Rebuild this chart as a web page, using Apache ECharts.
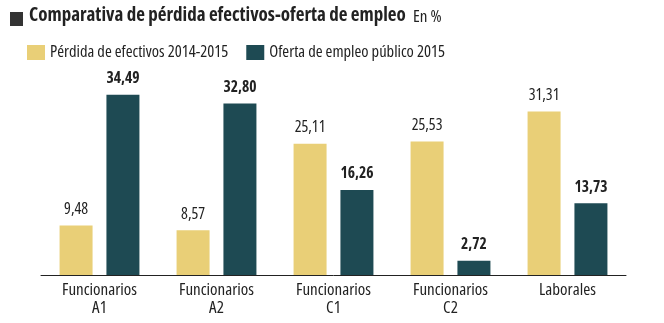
<!DOCTYPE html>
<html><head><meta charset="utf-8">
<script src="https://cdn.jsdelivr.net/npm/echarts@6/dist/echarts.min.js"></script>
<style>html,body{margin:0;padding:0;background:#fff}#c{width:664px;height:323px}</style>
</head><body><div id="c"></div>
<script>
const categories = ['Funcionarios\nA1','Funcionarios\nA2','Funcionarios\nC1','Funcionarios\nC2','Laborales'];
const perdida = [9.48, 8.57, 25.11, 25.53, 31.31];
const oferta = [34.49, 32.80, 16.26, 2.72, 13.73];
const seriesNames = ['Pérdida de efectivos 2014-2015','Oferta de empleo público 2015'];
const titleText = 'Comparativa de pérdida efectivos-oferta de empleo';
const unitText = 'En %';

const FONT = "'Open Sans'";
const fmt = v => v.value.toFixed(2).replace('.', ',');
const chart = echarts.init(document.getElementById('c'));
chart.setOption({
  animation: false,
  textStyle: {fontFamily: FONT, fontStyle: 'condensed'},
  graphic: [
    {type:'rect', shape:{x:10,y:12,width:13,height:14}, style:{fill:'#333'}},
    {type:'text', left:29, top:6, style:{text:titleText, font:"condensed bold 19px 'Open Sans'", fill:'#222'}},
    {type:'text', left:413, top:9, style:{text:unitText, font:"condensed 17px 'Open Sans'", fill:'#222'}}
  ],
  legend: {
    left: 22, top: 39, itemWidth: 18, itemHeight: 15, itemGap: 18, icon: 'rect',
    textStyle: {fontSize: 16.5, color: '#222', fontFamily: FONT, fontStyle: 'condensed'},
    data: seriesNames
  },
  grid: {left: 41, right: 38, top: 66, bottom: 48},
  xAxis: {
    type: 'category', data: categories,
    axisLine: {lineStyle: {color: '#222', width: 1}},
    axisTick: {show: false},
    axisLabel: {fontSize: 17, color: '#222', lineHeight: 18, margin: 6, fontFamily: FONT, fontStyle: 'condensed'}
  },
  yAxis: {type: 'value', min: 0, max: 40, show: false, splitLine: {show: false}},
  series: [
    {name: seriesNames[0], type: 'bar', data: perdida, barWidth: 33, barGap: '42%',
     itemStyle: {color: '#E9CF77'},
     label: {show: true, position: 'top', distance: 8, formatter: fmt, fontSize: 16, color: '#222', fontFamily: FONT, fontStyle: 'condensed'}},
    {name: seriesNames[1], type: 'bar', data: oferta, barWidth: 33,
     itemStyle: {color: '#1E4A53'},
     label: {show: true, position: 'top', distance: 8, formatter: fmt, fontSize: 15.5, fontWeight: 'bold', color: '#222', fontFamily: FONT, fontStyle: 'condensed'}}
  ]
});
</script></body></html>
